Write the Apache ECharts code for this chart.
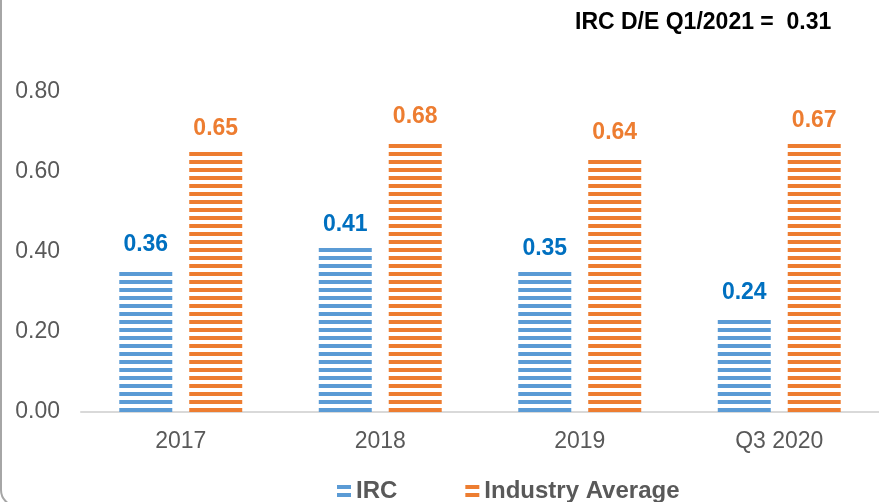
<!DOCTYPE html>
<html>
<head>
<meta charset="utf-8">
<script src="https://cdn.jsdelivr.net/npm/echarts@6/dist/echarts.min.js"></script>
<style>
  html, body { margin: 0; padding: 0; background: #fff; }
  #chart { width: 879px; height: 502px; }
</style>
</head>
<body>
<div id="chart"></div>
<script>
const categories = ['2017', '2018', '2019', 'Q3 2020'];
const ircValues = [0.36, 0.41, 0.35, 0.24];
const industryValues = [0.65, 0.68, 0.64, 0.67];
const yTicks = [0, 0.2, 0.4, 0.6, 0.8];

// horizontal stripe fill like the original
function stripes(color) {
  const c = document.createElement('canvas');
  c.width = 8;
  c.height = 8;
  const ctx = c.getContext('2d');
  ctx.fillStyle = color;
  ctx.fillRect(0, 0, 8, 4);
  return { image: c, repeat: 'repeat' };
}

const blue = '#5b9bd5';
const orange = '#ed7d31';
const font = 'Liberation Sans, Arial, sans-serif';

const chart = echarts.init(document.getElementById('chart'));
chart.setOption({
  animation: false,
  title: {
    text: 'IRC D/E Q1/2021 =  0.31',
    left: 570,
    top: 6,
    textStyle: { fontFamily: font, fontSize: 23, fontWeight: 'bold', color: '#000' }
  },
  legend: {
    left: 332,
    top: 474,
    itemWidth: 14,
    itemHeight: 12,
    itemGap: 68,
    icon: 'rect',
    textStyle: { fontFamily: font, fontSize: 24, fontWeight: 'bold', color: '#595959' },
    data: ['IRC', 'Industry Average']
  },
  graphic: [{
    type: 'rect',
    shape: { x: 1, y: -60, width: 1000, height: 566, r: 16 },
    style: { fill: 'none', stroke: '#a6a6a6', lineWidth: 2 },
    silent: true
  }],
  grid: { left: 81, right: -7, top: 92, bottom: 90 },
  xAxis: {
    type: 'category',
    data: categories,
    axisLine: { lineStyle: { color: '#d9d9d9', width: 2 } },
    axisTick: { show: false },
    axisLabel: { fontFamily: font, fontSize: 23, color: '#595959', margin: 18 }
  },
  yAxis: {
    type: 'value',
    min: yTicks[0],
    max: yTicks[yTicks.length - 1],
    interval: 0.2,
    splitLine: { show: false },
    axisLabel: {
      fontFamily: font, fontSize: 23, color: '#595959', margin: 21,
      formatter: v => v.toFixed(2)
    }
  },
  series: [
    {
      name: 'IRC',
      type: 'bar',
      data: ircValues,
      barWidth: 53,
      barGap: '32%',
      itemStyle: { color: stripes(blue) },
      label: {
        show: true, position: 'top', distance: 12,
        formatter: p => p.value.toFixed(2),
        fontFamily: font, fontSize: 23, fontWeight: 'bold', color: '#0070c0'
      }
    },
    {
      name: 'Industry Average',
      type: 'bar',
      data: industryValues,
      barWidth: 53,
      itemStyle: { color: stripes(orange) },
      label: {
        show: true, position: 'top', distance: 12,
        formatter: p => p.value.toFixed(2),
        fontFamily: font, fontSize: 23, fontWeight: 'bold', color: orange
      }
    }
  ]
});
</script>
</body>
</html>
